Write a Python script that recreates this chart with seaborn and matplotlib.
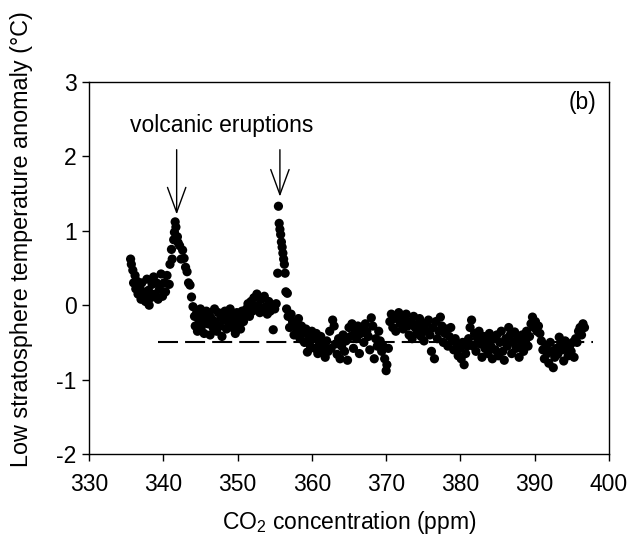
import matplotlib
matplotlib.use("Agg")
import matplotlib.pyplot as plt
import seaborn as sns
import numpy as np
import pandas as pd

# ---- data ----
co2_a = [335.6,335.7,335.9,336.0,336.2,336.3,336.5,336.6,336.8,337.0,337.1,337.3,337.5,337.6,337.8,
         338.0,338.1,338.3,338.5,338.7,338.9,339.1,339.3,339.5,339.7,339.9,340.1,340.3,340.5,340.8]
temp_a = [0.62,0.55,0.47,0.30,0.40,0.22,0.32,0.15,0.25,0.08,0.30,0.18,0.12,0.05,0.35,
          0.20,0.00,0.10,0.28,0.38,0.15,0.30,0.08,0.22,0.42,0.12,0.30,0.18,0.40,0.28]

co2_b = [340.9,341.1,341.2,341.4,341.5,341.6,341.7,341.9,342.0,342.2,342.4,342.6,342.8,343.0,343.2,
         343.4,343.6,343.8,344.0,344.2]
temp_b = [0.55,0.75,0.62,0.88,0.98,1.12,1.05,0.92,0.84,0.80,0.62,0.74,0.63,0.51,0.45,
          0.30,0.27,0.11,-0.02,-0.15]

co2_c = [344.3,344.5,344.6,344.8,345.0,345.1,345.3,345.5,345.6,345.8,346.0,346.2,346.3,346.5,346.7,
         346.9,347.0,347.2,347.4,347.6,347.8,347.9,348.1,348.3,348.5,348.6,348.8,349.0,349.2,349.3,
         349.5,349.7,349.9,350.0,350.2,350.4,350.6,350.8,351.0]
temp_c = [-0.28,-0.10,-0.35,-0.20,-0.05,-0.30,-0.15,-0.38,-0.22,-0.08,-0.25,-0.12,-0.40,-0.18,-0.30,
          -0.05,-0.22,-0.35,-0.10,-0.28,-0.15,-0.42,-0.20,-0.08,-0.32,-0.18,-0.25,-0.05,-0.12,-0.30,
          -0.20,-0.38,-0.10,-0.25,-0.15,-0.32,-0.08,-0.22,-0.12]

co2_d = [351.2,351.4,351.6,351.8,352.0,352.2,352.4,352.6,352.8,353.0,353.2,353.4,353.6,353.8,354.0,
         354.2,354.4,354.6,354.8,355.0,355.2]
temp_d = [-0.05,0.02,-0.15,0.05,-0.08,0.10,-0.02,0.15,0.00,-0.10,0.08,-0.05,0.12,-0.02,-0.12,
          0.05,-0.08,0.00,-0.33,-0.05,0.02]

co2_e = [355.4,355.5,355.6,355.7,355.8,355.9,356.0,356.1,356.2,356.3,356.4,356.5,356.7]
temp_e = [0.43,1.33,1.10,1.02,0.95,0.85,0.78,0.70,0.62,0.55,0.43,0.18,0.16]

co2_f = [356.6,356.8,357.0,357.2,357.4,357.6,357.8,358.0,358.2,358.4,358.6,358.8,359.0,359.2,359.4,
         359.6,359.8,360.0]
temp_f = [-0.05,-0.15,-0.30,-0.12,-0.22,-0.40,-0.25,-0.35,-0.18,-0.45,-0.28,-0.38,-0.50,-0.32,-0.63,
          -0.42,-0.55,-0.35]

co2_g = [360.2,360.4,360.6,360.8,361.0,361.2,361.4,361.6,361.8,362.0,362.2,362.4,362.6,362.8,363.0,
         363.2,363.4,363.6,363.8,364.0,364.2,364.4,364.6,364.8,365.0,365.2,365.4,365.6,365.8]
temp_g = [-0.45,-0.58,-0.38,-0.65,-0.50,-0.42,-0.60,-0.55,-0.70,-0.48,-0.62,-0.35,-0.58,-0.20,-0.28,
          -0.52,-0.66,-0.45,-0.72,-0.55,-0.40,-0.62,-0.48,-0.74,-0.30,-0.42,-0.25,-0.58,-0.35]

co2_h = [366.0,366.2,366.4,366.6,366.8,367.0,367.2,367.4,367.6,367.8,368.0,368.2,368.4,368.6,368.8,
         369.0,369.2,369.4,369.6,369.8,370.0,370.1,370.3]
temp_h = [-0.45,-0.28,-0.65,-0.38,-0.30,-0.50,-0.25,-0.35,-0.42,-0.60,-0.17,-0.28,-0.72,-0.45,-0.55,
          -0.35,-0.48,-0.62,-0.55,-0.72,-0.88,-0.80,-0.58]

co2_i = [370.5,370.7,370.9,371.1,371.3,371.5,371.7,371.9,372.1,372.3,372.5,372.7,372.9,373.1,373.3,
         373.5,373.7,373.9,374.1,374.3,374.5,374.7,374.9]
temp_i = [-0.22,-0.12,-0.30,-0.18,-0.35,-0.15,-0.10,-0.25,-0.20,-0.32,-0.18,-0.12,-0.28,-0.40,-0.22,
          -0.45,-0.15,-0.30,-0.38,-0.25,-0.18,-0.42,-0.32]

co2_j = [375.1,375.3,375.5,375.7,375.9,376.1,376.3,376.5,376.7,376.9,377.1,377.3,377.5,377.7,377.9,
         378.1,378.3,378.5,378.7,378.9,379.1,379.3,379.5,379.7,379.9,380.1,380.3,380.5,380.7,380.9]
temp_j = [-0.48,-0.25,-0.35,-0.20,-0.40,-0.62,-0.30,-0.72,-0.22,-0.45,-0.35,-0.16,-0.28,-0.50,-0.38,
          -0.32,-0.55,-0.42,-0.30,-0.48,-0.60,-0.45,-0.52,-0.68,-0.58,-0.72,-0.50,-0.80,-0.65,-0.55]

co2_k = [381.1,381.3,381.5,381.7,381.9,382.1,382.3,382.5,382.7,382.9,383.1,383.3,383.5,383.7,383.9,
         384.1,384.3,384.5,384.7,384.9,385.1,385.3,385.5,385.7,385.9,386.1,386.3,386.5,386.7,386.9,
         387.1,387.3,387.5,387.7,387.9]
temp_k = [-0.45,-0.30,-0.20,-0.55,-0.38,-0.62,-0.45,-0.35,-0.52,-0.70,-0.42,-0.58,-0.48,-0.65,-0.38,
          -0.55,-0.72,-0.45,-0.60,-0.40,-0.68,-0.50,-0.35,-0.62,-0.74,-0.45,-0.55,-0.30,-0.40,-0.65,
          -0.50,-0.36,-0.58,-0.45,-0.70]

co2_l = [388.1,388.3,388.5,388.7,388.9,389.1,389.3,389.5,389.7,389.9,390.1,390.3,390.5,390.7,390.9,391.1]
temp_l = [-0.55,-0.40,-0.62,-0.48,-0.35,-0.55,-0.42,-0.25,-0.16,-0.30,-0.22,-0.35,-0.28,-0.38,-0.48,-0.60]

co2_m = [391.3,391.5,391.7,391.9,392.1,392.3,392.5,392.7,392.9,393.1,393.3,393.5,393.7,393.9,394.1,
         394.3,394.5,394.7,394.9,395.1,395.3,395.5]
temp_m = [-0.72,-0.55,-0.65,-0.78,-0.50,-0.62,-0.84,-0.70,-0.58,-0.66,-0.43,-0.52,-0.60,-0.75,-0.48,
          -0.58,-0.68,-0.55,-0.62,-0.50,-0.70,-0.45]

co2_n = [395.7,395.9,396.1,396.3,396.5,396.7]
temp_n = [-0.50,-0.35,-0.30,-0.40,-0.25,-0.30]

ref_level = -0.5
ref_co2 = [339.3, 397.8]

arrow_co2 = [341.8, 355.7]
arrow_top = 2.09
arrow_tip = [1.22, 1.46]

x_ticks = [330, 340, 350, 360, 370, 380, 390, 400]
y_ticks = [-2, -1, 0, 1, 2, 3]

# ---- figure ----
sns.set_theme(style="ticks")
plt.rcParams["font.family"] = ["Liberation Sans", "DejaVu Sans"]
plt.rcParams["mathtext.fontset"] = "custom"
plt.rcParams["mathtext.rm"] = "Liberation Sans"
plt.rcParams["axes.unicode_minus"] = False

co2 = co2_a + co2_b + co2_c + co2_d + co2_e + co2_f + co2_g + co2_h + co2_i + co2_j + co2_k + co2_l + co2_m + co2_n
temp = temp_a + temp_b + temp_c + temp_d + temp_e + temp_f + temp_g + temp_h + temp_i + temp_j + temp_k + temp_l + temp_m + temp_n
df = pd.DataFrame({"co2": co2, "temp": temp})

fig = plt.figure(figsize=(6.3, 5.41), dpi=100)
ax = fig.add_axes([89 / 630, 1 - 454 / 541, 520 / 630, 372 / 541])

ax.plot(ref_co2, [ref_level, ref_level], color="black", lw=1.5, dashes=(9.6, 3.4), zorder=1)
sns.scatterplot(data=df, x="co2", y="temp", color="black", s=44, edgecolor="none",
                linewidth=0, ax=ax, legend=False, zorder=2)

for xa, yt in zip(arrow_co2, arrow_tip):
    ax.annotate("", xy=(xa, yt), xytext=(xa, arrow_top),
                arrowprops=dict(arrowstyle="->,head_length=1.5,head_width=0.55",
                                lw=1.0, color="black", shrinkA=0, shrinkB=0))

ax.text(347.9, 2.41, "volcanic eruptions", ha="center", va="center", fontsize=16.5, color="black")
ax.text(396.4, 2.72, "(b)", ha="center", va="center", fontsize=16.5, color="black")

ax.set_xlim(330, 400)
ax.set_ylim(-2, 3)
ax.set_xticks(x_ticks)
ax.set_yticks(y_ticks)
ax.tick_params(direction="out", length=5, width=1, labelsize=16.5, colors="black")
ax.tick_params(axis="x", pad=8.5)
ax.tick_params(axis="y", pad=4)
for s in ax.spines.values():
    s.set_visible(True)
    s.set_linewidth(1)
    s.set_color("black")

ax.set_xlabel("CO$_\\mathrm{2}$ concentration (ppm)", fontsize=16.5, color="black", va="center")
ax.set_ylabel("Low stratosphere temperature anomaly (°C)", fontsize=16.8, color="black", va="center")
ax.yaxis.set_label_coords(-0.129, 0.578)
ax.xaxis.set_label_coords(0.5, -0.185)

fig.savefig("out.png", dpi=100)
